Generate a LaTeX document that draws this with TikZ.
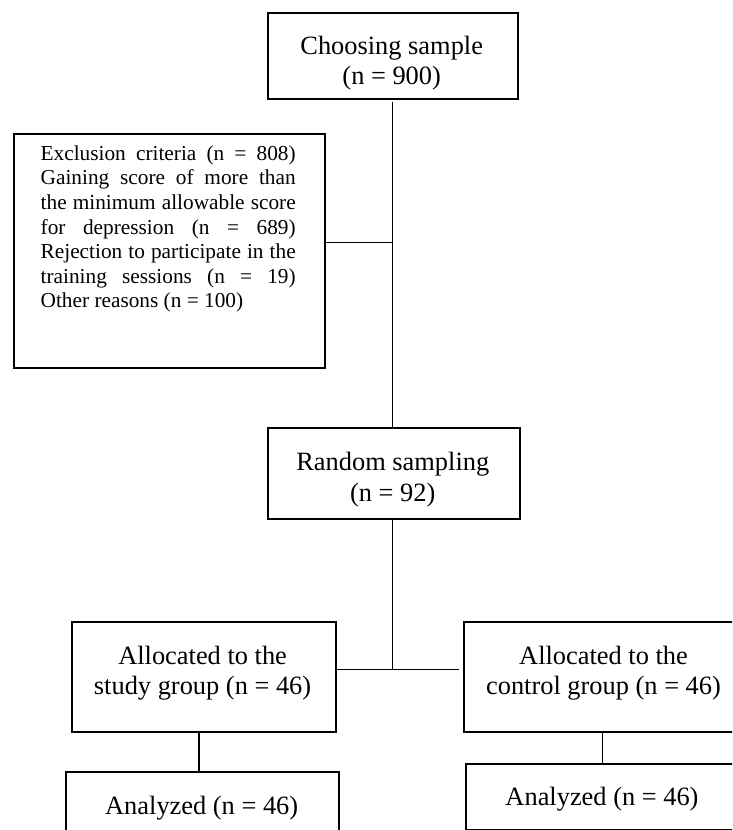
\documentclass[tikz,border=0pt]{standalone}
\usepackage{fontspec}
\setmainfont{Liberation Serif}
\begin{document}
\begin{tikzpicture}[x=1pt,y=-1pt,
  box/.style={draw, line width=2pt, inner sep=0pt, anchor=north west},
  link/.style={line width=1.5pt},
  main/.style={font=\fontsize{26.4}{30.6}\selectfont, align=center, inner sep=0pt},
  small/.style={font=\fontsize{21.3}{24.6}\selectfont, align=left, inner sep=0pt}]
\useasboundingbox (0,0) rectangle (732,830);
\clip (0,0) rectangle (732,830);
% boxes
\node[box, minimum width=250pt, minimum height=85.7pt] (choose) at (266.7,12) {};
\node[box, minimum width=311.3pt, minimum height=233.8pt] (excl) at (12.7,132.7) {};
\node[box, minimum width=252.6pt, minimum height=91.6pt] (random) at (266.7,426.7) {};
\node[box, minimum width=263.6pt, minimum height=110.3pt] (study) at (71.4,620.7) {};
\node[box, minimum width=282pt, minimum height=110.3pt] (control) at (462.7,620.7) {};
\node[box, minimum width=272.7pt, minimum height=80pt] (an1) at (65,770.7) {};
\node[box, minimum width=276pt, minimum height=66pt] (an2) at (465.4,763.3) {};
% texts
\node[main] (tchoose) at (391.7,63) {Choosing sample\\(n = 900)};
\node[small] (texcl) at (168.2,229) {%
\makebox[255pt][s]{Exclusion criteria (n = 808)}\\
\makebox[255pt][s]{Gaining score of more than}\\
\makebox[255pt][s]{the minimum allowable score}\\
\makebox[255pt][s]{for depression (n = 689)}\\
\makebox[255pt][s]{Rejection to participate in the}\\
\makebox[255pt][s]{training sessions (n = 19)}\\
\makebox[255pt][l]{Other reasons (n = 100)}};
\node[main] (trandom) at (392.8,479.5) {Random sampling\\(n = 92)};
\node[main] (tstudy) at (202.6,673) {Allocated to the\\study group (n = 46)};
\node[main] (tcontrol) at (603.5,673) {Allocated to the\\control group (n = 46)};
\node[main] (tan1) at (201.7,808) {Analyzed (n = 46)};
\node[main] (tan2) at (602,799) {Analyzed (n = 46)};
% connector points
\coordinate (top0) at (392.7,101.7);
\coordinate (j1) at (392.7,242.3);
\coordinate (j2) at (392.7,669.3);
\coordinate (j3) at (459.3,669.3);
\coordinate (s1) at (199,0);
\coordinate (c1) at (602.7,0);
% connectors
\draw[link] (top0) -- (random.north -| top0);
\draw[link] (excl.east |- j1) -- (j1);
\draw[link] (random.south -| j2) -- (j2);
\draw[link] (study.east |- j2) -- (j2) -- (j3);
\draw[link] (study.south -| s1) -- (an1.north -| s1);
\draw[link] (control.south -| c1) -- (an2.north -| c1);
\end{tikzpicture}
\end{document}
